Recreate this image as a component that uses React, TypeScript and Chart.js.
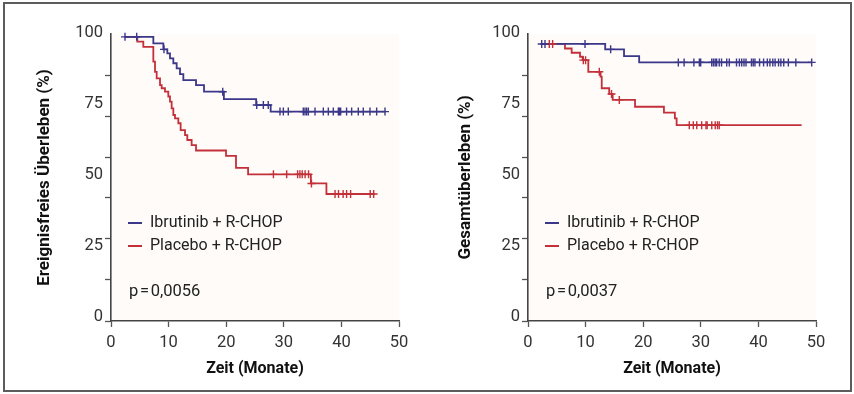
import React, { useEffect, useRef } from 'react';
import { Chart, registerables } from 'chart.js';

Chart.register(...registerables);

// ---------- data ----------
const SERIES_NAMES = ['Ibrutinib + R-CHOP', 'Placebo + R-CHOP'];
const COLORS = ['#3b3789', '#c3303a'];
const X_TICKS = [0, 10, 20, 30, 40, 50];
const Y_LABELS = [0, 25, 50, 75, 100];
const Y_MARKS = [0, 14.43, 28.86, 43.29, 57.71, 72.14, 86.57];
const Y_TITLES = ['Ereignisfreies Überleben (%)', 'Gesamtüberleben (%)'];
const X_TITLE = 'Zeit (Monate)';
const P_VALUES = ['p\u200A=\u200A0,0056', 'p\u200A=\u200A0,0037'];

// Event-free survival (left panel)
const EFS_IBR_T = [2.4, 7.35, 9.09, 9.78, 10.24, 10.82, 11.4, 11.98, 12.56, 14.76, 16.15, 19.6, 25.2, 27.72, 47.6];
const EFS_IBR_S = [100, 97.7, 95.6, 94.2, 92.4, 90.7, 88.9, 86.9, 84.8, 83.0, 80.7, 78.1, 76.0, 73.7, 73.7];
const EFS_IBR_CENSOR = [2.43, 4.46, 9.2, 19.4, 25.3, 26.45, 27.3, 29.34, 29.92, 30.78, 33.38, 33.68, 33.97, 34.26, 35.42, 36.86, 37.73, 38.6, 39.47, 39.64, 39.87, 40.9, 41.78, 42.93, 43.8, 44.96, 46.12, 47.57];

const EFS_PLA_T = [2.4, 4.57, 5.61, 7.35, 7.64, 7.93, 8.51, 8.8, 9.37, 9.95, 10.24, 10.53, 10.82, 11.11, 11.69, 12.09, 12.85, 13.25, 14.0, 14.76, 19.97, 21.7, 23.8, 34.7, 37.4, 45.8];
const EFS_PLA_S = [100, 98.3, 96.5, 91.3, 87.7, 85.4, 83.0, 81.9, 80.7, 79.0, 77.2, 74.8, 72.5, 71.3, 69.6, 67.2, 65.4, 63.7, 61.9, 60.0, 58.1, 53.9, 51.6, 48.4, 44.7, 44.7];
const EFS_PLA_CENSOR = [28.2, 30.5, 32.4, 32.8, 33.2, 33.7, 34.3, 34.8, 38.9, 39.5, 40.3, 40.9, 41.6, 45.0, 45.6];

// Overall survival (right panel)
const OS_IBR_T = [2.2, 13.4, 16.67, 19.3, 49.3];
const OS_IBR_S = [97.5, 95.6, 93.2, 91.0, 91.0];
const OS_IBR_CENSOR = [2.38, 2.95, 9.9, 14.35, 26.1, 27.1, 28.8, 29.75, 29.98, 31.9, 32.2, 32.5, 32.75, 33.2, 33.6, 34.5, 34.95, 36.2, 36.7, 37.1, 37.5, 37.85, 38.8, 39.1, 39.4, 40.2, 40.9, 41.55, 42.0, 42.5, 42.9, 43.5, 43.9, 44.4, 45.2, 46.5, 49.25];

const OS_PLA_T = [2.2, 6.42, 7.58, 9.03, 9.5, 10.47, 12.6, 12.8, 14.1, 14.7, 18.58, 23.6, 25.5, 25.8, 47.5];
const OS_PLA_S = [97.5, 95.9, 94.4, 93.0, 91.8, 87.7, 86.0, 81.9, 79.9, 77.8, 75.4, 73.3, 71.3, 68.9, 68.9];
const OS_PLA_CENSOR = [3.7, 4.28, 9.6, 10.0, 12.38, 14.5, 15.85, 28.0, 28.7, 29.3, 30.15, 30.9, 31.1, 31.9, 32.5, 32.9, 33.2];

// ---------- helpers ----------
const Y_TICK_VALUES = Array.from(new Set([...Y_MARKS, ...Y_LABELS])).sort((a, b) => a - b);

function valueAt(T: number[], S: number[], t: number) {
  let v = S[0];
  for (let i = 0; i < T.length; i++) if (T[i] <= t) v = S[i];
  return v;
}

function curveDataset(T: number[], S: number[], color: string) {
  return {
    type: 'line' as const,
    data: T.map((t, i) => ({ x: t, y: S[i] })),
    borderColor: color,
    borderWidth: 1.8,
    pointRadius: 0,
    stepped: 'before' as const,
    fill: false,
    tension: 0,
  };
}

function censorDataset(T: number[], S: number[], C: number[], color: string) {
  return {
    type: 'line' as const,
    data: C.map((t) => ({ x: t, y: valueAt(T, S, t) })),
    showLine: false,
    borderColor: color,
    backgroundColor: color,
    pointStyle: 'cross' as const,
    pointRadius: 4,
    pointBorderWidth: 1.4,
    pointBorderColor: color,
    clip: false as const,
  };
}

const overlayPlugin = {
  id: 'overlay',
  beforeDraw(chart: any) {
    const { ctx, chartArea } = chart;
    ctx.save();
    ctx.fillStyle = '#fefbf8';
    ctx.fillRect(chartArea.left, chartArea.top, chartArea.right - chartArea.left, chartArea.bottom - chartArea.top);
    ctx.restore();
  },
  afterDraw(chart: any, _args: any, opts: any) {
    const { ctx, chartArea } = chart;
    const { left, top } = chartArea;
    ctx.save();
    ctx.font = '16px Roboto';
    ctx.textBaseline = 'middle';
    ctx.textAlign = 'left';
    SERIES_NAMES.forEach((name, i) => {
      const y = top + 189 + 23 * i;
      ctx.strokeStyle = COLORS[i];
      ctx.lineWidth = 2;
      ctx.beginPath();
      ctx.moveTo(left + 17, y);
      ctx.lineTo(left + 31, y);
      ctx.stroke();
      ctx.fillStyle = '#222';
      ctx.fillText(name, left + 39, y);
    });
    ctx.font = '16.5px Roboto';
    ctx.fillStyle = '#222';
    ctx.fillText(opts.p, left + 18, top + 258);
    ctx.restore();
  },
};

type PanelProps = {
  left: number;
  width: number;
  padLeft: number;
  padRight: number;
  axisWidth: number;
  yTitle: string;
  pText: string;
  ibr: [number[], number[], number[]];
  pla: [number[], number[], number[]];
};

function Panel(props: PanelProps) {
  const ref = useRef<HTMLCanvasElement | null>(null);
  useEffect(() => {
    if (!ref.current) return;
    const [iT, iS, iC] = props.ibr;
    const [pT, pS, pC] = props.pla;
    const chart = new Chart(ref.current, {
      type: 'line',
      data: {
        datasets: [
          censorDataset(iT, iS, iC, COLORS[0]),
          censorDataset(pT, pS, pC, COLORS[1]),
          curveDataset(iT, iS, COLORS[0]),
          curveDataset(pT, pS, COLORS[1]),
        ] as any,
      },
      options: {
        responsive: false,
        animation: false,
        events: [],
        layout: { padding: { left: props.padLeft, right: props.padRight, top: 34, bottom: 0 } },
        plugins: {
          legend: { display: false },
          tooltip: { enabled: false },
          overlay: { p: props.pText },
        } as any,
        scales: {
          x: {
            type: 'linear',
            min: 0,
            max: 50,
            afterBuildTicks: (s: any) => {
              s.ticks = X_TICKS.map((v) => ({ value: v }));
            },
            afterFit: (s: any) => {
              s.height = 73;
            },
            grid: {
              display: true,
              drawOnChartArea: false,
              drawTicks: true,
              tickLength: 6,
              tickColor: '#555',
              tickWidth: 1.3,
            },
            border: { display: true, color: '#444', width: 1.6 },
            ticks: {
              color: '#333',
              font: { family: 'Roboto', size: 16.5 },
              padding: 6,
              autoSkip: false,
              maxRotation: 0,
            },
            title: {
              display: true,
              text: X_TITLE,
              color: '#111',
              font: { family: 'Roboto', size: 16, weight: 'bold' },
              padding: { top: 0, bottom: 15 },
            },
          },
          y: {
            type: 'linear',
            min: 0,
            max: 101,
            afterBuildTicks: (s: any) => {
              s.ticks = Y_TICK_VALUES.map((v) => ({ value: v }));
            },
            afterFit: (s: any) => {
              s.width = props.axisWidth;
            },
            grid: {
              display: true,
              drawOnChartArea: false,
              drawTicks: true,
              tickLength: 6,
              tickWidth: 1.3,
              tickColor: (c: any) => (c.tick && Y_MARKS.includes(c.tick.value) ? '#555' : 'rgba(0,0,0,0)'),
            },
            border: { display: true, color: '#444', width: 1.6 },
            ticks: {
              color: '#333',
              font: { family: 'Roboto', size: 16.5 },
              padding: 2,
              labelOffset: -4,
              autoSkip: false,
              callback: (v: any) => (Y_LABELS.includes(Number(v)) ? String(v) : ''),
            },
            title: {
              display: true,
              text: props.yTitle,
              color: '#111',
              font: { family: 'Roboto', size: 17, weight: 'bold' },
              padding: { top: 0, bottom: 0 },
            },
          },
        },
      } as any,
      plugins: [overlayPlugin],
    });
    return () => chart.destroy();
  }, []);
  return (
    <canvas
      ref={ref}
      width={props.width}
      height={394}
      style={{ position: 'absolute', left: props.left, top: 0, width: props.width, height: 394 }}
    />
  );
}

export default function App() {
  return (
    <div style={{ position: 'absolute', left: 0, top: 0, width: 854, height: 394, background: '#fff', overflow: 'hidden' }}>
      <div
        style={{
          position: 'absolute',
          left: 3,
          top: 2,
          width: 849,
          height: 390,
          border: '2px solid #5c5c5c',
          boxSizing: 'border-box',
        }}
      />
      <Panel
        left={0}
        width={420}
        padLeft={35}
        padRight={21}
        axisWidth={76}
        yTitle={Y_TITLES[0]}
        pText={P_VALUES[0]}
        ibr={[EFS_IBR_T, EFS_IBR_S, EFS_IBR_CENSOR]}
        pla={[EFS_PLA_T, EFS_PLA_S, EFS_PLA_CENSOR]}
      />
      <Panel
        left={420}
        width={434}
        padLeft={36}
        padRight={38}
        axisWidth={72}
        yTitle={Y_TITLES[1]}
        pText={P_VALUES[1]}
        ibr={[OS_IBR_T, OS_IBR_S, OS_IBR_CENSOR]}
        pla={[OS_PLA_T, OS_PLA_S, OS_PLA_CENSOR]}
      />
    </div>
  );
}
